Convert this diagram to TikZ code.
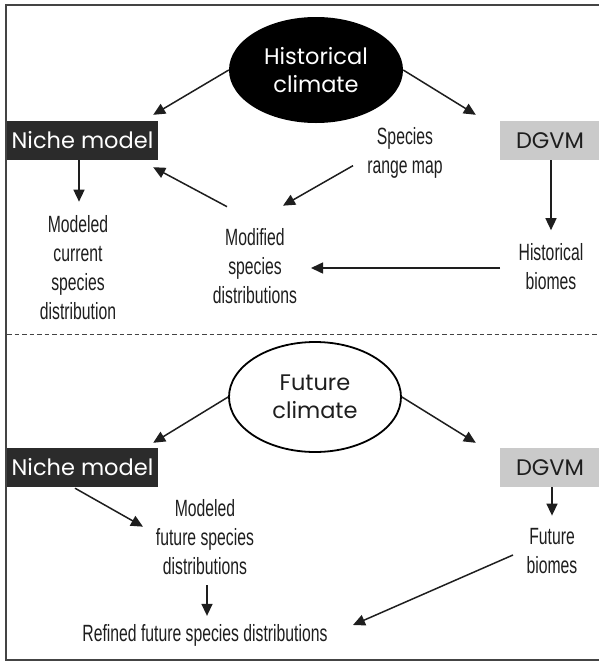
\documentclass[tikz,border=0pt]{standalone}
\usepackage{fontspec}
\setmainfont{Liberation Sans}
\newfontfamily\geo{Poppins}
\newfontfamily\cond[FakeStretch=0.67]{Liberation Sans}
\usetikzlibrary{arrows.meta,calc,shapes.geometric}
\definecolor{boxdark}{HTML}{2B2B2B}
\definecolor{boxlight}{HTML}{CACACA}
\definecolor{framecol}{HTML}{444444}
\definecolor{inkcol}{HTML}{1E1E1E}
\begin{document}
\begin{tikzpicture}[x=1pt,y=-1pt,
  arr/.style={line width=1.5pt,inkcol,-{Triangle[length=12pt,width=11pt]}},
  lbl/.style={font=\cond\fontsize{23.5}{29}\selectfont,align=center,inner sep=0pt,text=inkcol},
  geotext/.style={font=\geo\fontsize{22.5}{28}\selectfont,align=center},
  darkbox/.style={rectangle,fill=boxdark,text=white,minimum width=151pt,minimum height=39pt,inner sep=0pt,geotext},
  lightbox/.style={rectangle,fill=boxlight,text=inkcol,minimum width=100pt,minimum height=39pt,inner sep=0pt,geotext},
  climblack/.style={ellipse,fill=black,text=white,minimum width=174pt,minimum height=106pt,inner sep=0pt,geotext},
  climwhite/.style={ellipse,draw=black,line width=1.8pt,fill=white,text=inkcol,minimum width=172pt,minimum height=110pt,inner sep=0pt,geotext}
]
\useasboundingbox (0,0) rectangle (598,662);
\fill[white] (0,0) rectangle (598,662);
% frame
\draw[line width=2pt,framecol] (600,5) -- (6,5) -- (6,660) -- (600,660);
% separator
\draw[framecol,line width=0.9pt,dash pattern=on 4.5pt off 3pt] (7,334) -- (598,334);

% ---------- upper part ----------
\node[climblack] (hc) at (316,70) {Historical\\climate};
\node[darkbox] (nm1) at (82.5,140.5) {Niche model};
\node[lightbox] (dg1) at (550,140.5) {DGVM};
\node[lbl] (mcsd) at (78,268) {Modeled\\current\\species\\distribution};
\node[lbl] (msd) at (255,266.5) {Modified\\species\\distributions};
\node[lbl] (srm) at (405,153) {Species\\range map};
\node[lbl] (hb) at (551,266.5) {Historical\\biomes};

\draw[arr] (hc.west) -- ($(nm1.north east)+(-5,-6)$);
\draw[arr] (hc.east) -- ($(dg1.north west)+(-24,-6)$);
\draw[arr] ($(nm1.south)+(-3.5,0)$) -- ($(mcsd.north)+(1,-14)$);
\draw[arr] ($(msd.north)+(-28,-22)$) -- ($(nm1.south east)+(-5,7)$);
\draw[arr] ($(srm.south)+(-52,-13)$) -- ($(msd.north)+(28,-23)$);
\draw[arr] ($(dg1.south)+(1,0)$) -- ($(hb.north)+(0,-13)$);
\draw[arr] ($(hb.center)+(-51,1.5)$) -- ($(msd.center)+(56,1.5)$);

% ---------- lower part ----------
\node[climwhite] (fc) at (315,397) {Future\\climate};
\node[darkbox] (nm2) at (82.5,467.5) {Niche model};
\node[lightbox] (dg2) at (550,467.5) {DGVM};
\node[lbl] (fb) at (552,551.5) {Future\\biomes};
\node[lbl] (mfsd) at (205,537.5) {Modeled\\future species\\distributions};
\node[lbl] (rfsd) at (205,635) {Refined future species distributions};

\draw[arr] (fc.west) -- ($(nm2.north east)+(-5,-5)$);
\draw[arr] (fc.east) -- ($(dg2.north west)+(-24,-5)$);
\draw[arr] ($(dg2.south)+(2,0)$) -- ($(fb.north)+(0,-13)$);
\draw[arr] ($(nm2.south)+(-7.5,1)$) -- ($(mfsd.north)+(-62,27)$);
\draw[arr] ($(fb.center)+(-39,3.5)$) -- ($(rfsd.center)+(148,-10)$);
\draw[arr] ($(mfsd.south)+(2,10)$) -- ($(rfsd.north)+(2,-8)$);
\end{tikzpicture}
\end{document}
